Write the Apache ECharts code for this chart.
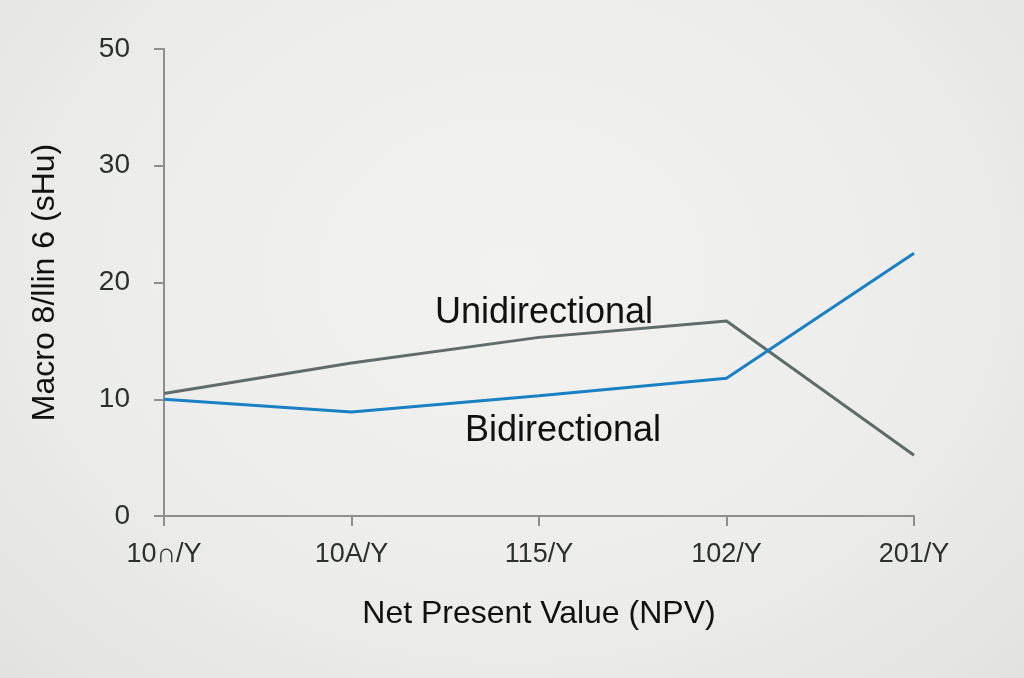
<!DOCTYPE html>
<html>
<head>
<meta charset="utf-8">
<script src="https://cdn.jsdelivr.net/npm/echarts@6/dist/echarts.min.js"></script>
<style>
html,body{margin:0;padding:0;width:1024px;height:678px;overflow:hidden;
background:radial-gradient(ellipse at 50% 40%, #f2f2f1 0%, #ececeb 60%, #e2e2e1 100%);}
#chart{width:1024px;height:678px;}
</style>
</head>
<body>
<div id="chart"></div>
<script>
const categories = ['10\u2229/Y', '10A/Y', '115/Y', '102/Y', '201/Y'];
const unidirectional = [10.5, 13.1, 15.3, 16.7, 5.2];
const bidirectional = [10.0, 8.9, 10.3, 11.8, 22.5];
const yTickLabels = ['0', '10', '20', '30', '50'];

const chart = echarts.init(document.getElementById('chart'));
const font = 'Liberation Sans, Arial, Helvetica, sans-serif';
chart.setOption({
  backgroundColor: 'transparent',
  animation: false,
  grid: {left: 164, right: 110, top: 49, bottom: 162, containLabel: false},
  xAxis: {
    type: 'category',
    data: categories,
    boundaryGap: false,
    name: 'Net Present Value (NPV)',
    nameLocation: 'middle',
    nameGap: 82,
    nameTextStyle: {fontFamily: font, fontSize: 32, color: '#111'},
    axisLine: {lineStyle: {color: '#8e8e8e', width: 2}},
    axisTick: {show: true, length: 10, lineStyle: {color: '#8e8e8e', width: 2}},
    axisLabel: {fontFamily: font, fontSize: 27, color: '#2a302e', margin: 25},
    splitLine: {show: false}
  },
  yAxis: {
    type: 'value',
    min: 0, max: 40, interval: 10,
    name: 'Macro 8/llin 6 (sHu)',
    nameLocation: 'middle',
    nameGap: 103,
    nameRotate: 90,
    nameTextStyle: {fontFamily: font, fontSize: 32, color: '#111'},
    axisLine: {show: true, lineStyle: {color: '#8e8e8e', width: 2}},
    axisTick: {show: true, length: 10, lineStyle: {color: '#8e8e8e', width: 2}},
    axisLabel: {fontFamily: font, fontSize: 28, color: '#2a302e', margin: 34,
      formatter: v => yTickLabels[Math.round(v / 10)]},
    splitLine: {show: false}
  },
  series: [
    {name: 'Unidirectional', type: 'line', data: unidirectional, symbol: 'none',
     lineStyle: {color: '#5f6c69', width: 3}, z: 2},
    {name: 'Bidirectional', type: 'line', data: bidirectional, symbol: 'none',
     lineStyle: {color: '#1a80c4', width: 3}, z: 3}
  ],
  graphic: [
    {type: 'text', x: 544, y: 313, z: 10, style: {text: 'Unidirectional', fontFamily: font, fontSize: 36, fill: '#111', align: 'center', verticalAlign: 'middle'}},
    {type: 'text', x: 563, y: 431, z: 10, style: {text: 'Bidirectional', fontFamily: font, fontSize: 36, fill: '#111', align: 'center', verticalAlign: 'middle'}}
  ]
});
</script>
</body>
</html>
